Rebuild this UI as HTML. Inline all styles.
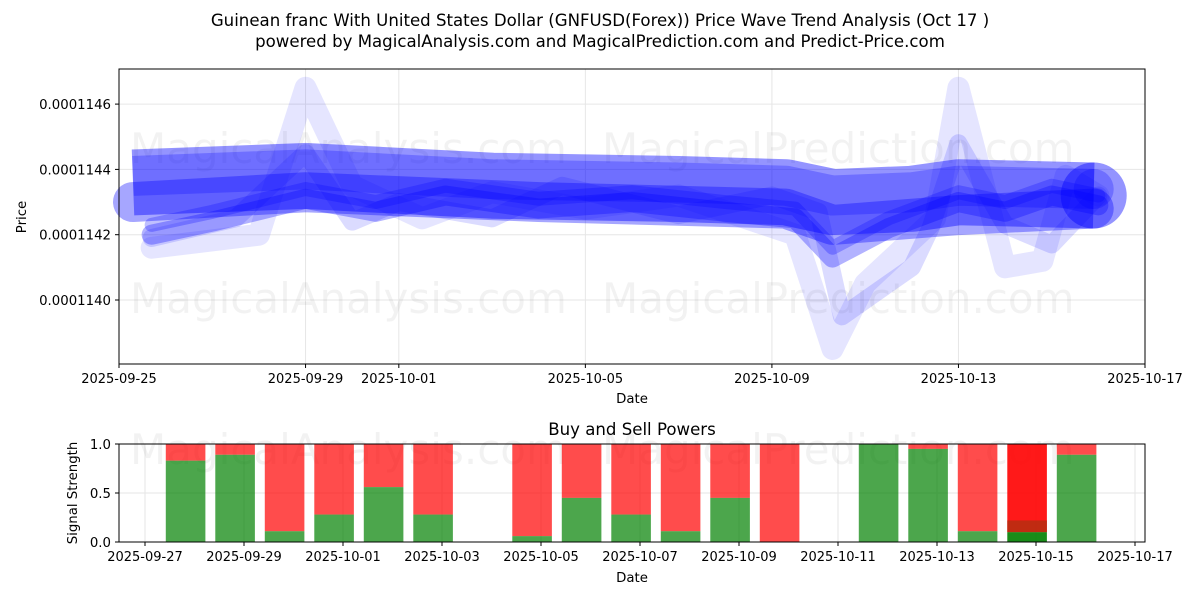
<!DOCTYPE html>
<html><head><meta charset="utf-8"><style>
body{margin:0;background:#fff;font-family:"Liberation Sans",sans-serif}
svg text{font-family:"DejaVu Sans","Liberation Sans",sans-serif;fill:#000}
</style></head><body>
<svg id="c" width="1200" height="600" viewBox="0 0 1200 600">
<text x="600" y="26" font-size="16.6" text-anchor="middle">Guinean franc With United States Dollar (GNFUSD(Forex)) Price Wave Trend Analysis (Oct 17 )</text>
<text x="600" y="47" font-size="16.6" text-anchor="middle">powered by MagicalAnalysis.com and MagicalPrediction.com and Predict-Price.com</text>
<g id="topg"></g>
<g id="botg"></g>
</svg>
<script>
// ---- top chart data (price x 1e7, days since 2025-09-25)
const topTicksX = ["2025-09-25","2025-09-29","2025-10-01","2025-10-05","2025-10-09","2025-10-13","2025-10-17"];
const topTickDays = [0,4,6,10,14,18,22];
const topTicksY = [1140,1142,1144,1146];
const s1Days = [0.3,4,8,12,14.3,15.3,17,18,20.9];
const s1Vals = [1143.6,1143.8,1143.5,1143.4,1143.3,1143.0,1143.1,1143.3,1143.2];
const s2Days = [0.3,4,9,14.3,15.3,18,20.9];
const s2Vals = [1143.0,1143.3,1143.0,1142.8,1142.3,1142.6,1142.8];
const s3Days = [0.7,2.5,4,5,6,8,9.5,12,14,15,15.5,17,17.4,18,19,20,21];
const s3Vals = [1141.9,1142.5,1144.5,1142.4,1143.0,1142.5,1143.5,1142.6,1143.2,1142.7,1139.5,1141,1142.2,1144.8,1142.3,1141.7,1143.2];
const s4Days = [0.7,3,4,5,6.5,8,10,12,14.5,15.3,16,17.5,18,19,19.8,20.3,21];
const s4Vals = [1141.6,1142,1146.5,1143.5,1142.5,1143.3,1142.8,1143.2,1142,1138.5,1140.5,1142.5,1146.5,1141.0,1141.2,1143.8,1143.2];
const s5Days = [0.7,2,4,5.5,7,9,11,13,14.5,15.3,16.5,18,19,20,21];
const s5Vals = [1142.0,1142.4,1143.1,1142.7,1143.2,1142.8,1143.0,1142.7,1142.5,1141.3,1142.2,1143.0,1142.7,1143.2,1142.9];
// ---- bottom chart data
const barDays = [0,1,2,3,4,5,7,8,9,10,11,12,14,15,16,17,18];
const buyVals = [0.83,0.89,0.11,0.28,0.56,0.28,0.06,0.45,0.28,0.11,0.45,0.0,1.0,0.95,0.11,0.1,0.89];
const botTicksX = ["2025-09-27","2025-09-29","2025-10-01","2025-10-03","2025-10-05","2025-10-07","2025-10-09","2025-10-11","2025-10-13","2025-10-15","2025-10-17"];
const botTicksY = [0.0,0.5,1.0];

const NS="http://www.w3.org/2000/svg";
function mk(p,t,a){const e=document.createElementNS(NS,t);for(const k in a)e.setAttribute(k,a[k]);p.appendChild(e);return e;}
const topG=document.getElementById('topg'),botG=document.getElementById('botg');
const L=119,R=1145,T=69,B=364;
const tx=d=>L+d*(R-L)/22, ty=v=>300-(v-1140)*65.3/2;
topTickDays.forEach(d=>{const g=mk(topG,'line',{x1:tx(d),x2:tx(d),y1:T,y2:B,stroke:'#e6e6e6'});

});
topTicksY.forEach(v=>{const g=mk(topG,'line',{x1:L,x2:R,y1:ty(v),y2:ty(v),stroke:'#e6e6e6'});

});
[[130,163],[602,163],[130,313],[602,313]].forEach((p,i)=>{const t=mk(topG,'text',{x:p[0],y:p[1],'font-size':42,fill:'#000','fill-opacity':0.05});t.textContent=i%2?'MagicalPrediction.com':'MagicalAnalysis.com';

});
function line(days,vals,w,op,name,cap){const pts=days.map((d,i)=>tx(d)+','+ty(vals[i])).join(' ');const p=mk(topG,'polyline',{points:pts,fill:'none',stroke:'#0000ff','stroke-opacity':op,'stroke-width':w,'stroke-linejoin':'round','stroke-linecap':cap||'round'});


if(cap==='butt'){const n=days.length-1;const c=mk(topG,'circle',{cx:tx(days[n]),cy:ty(vals[n]),r:w/2,fill:'#0000ff','fill-opacity':op});

}}
line(s4Days,s4Vals,22,0.1,'wave-4');
line(s3Days,s3Vals,18,0.14,'wave-3');
line(s1Days,s1Vals,66,0.42,'wave-1','butt');
line(s1Days,s1Vals.map(v=>v+0.2),40,0.25,'wave-1b','butt');
line(s2Days,s2Vals,40,0.35,'wave-2');
line(s5Days,s5Vals,20,0.3,'wave-5');
line(s5Days,s5Vals.map(v=>v+0.3),14,0.25,'wave-5b');
mk(topG,'rect',{x:L,y:T,width:R-L,height:B-T,fill:'none',stroke:'#000'});
topTickDays.forEach((d,i)=>{mk(topG,'line',{x1:tx(d),x2:tx(d),y1:B,y2:B+4,stroke:'#000'});const t=mk(topG,'text',{x:tx(d),y:B+19,'font-size':13,'text-anchor':'middle'});t.textContent=topTicksX[i];

});
topTicksY.forEach(v=>{mk(topG,'line',{x1:L-4,x2:L,y1:ty(v),y2:ty(v),stroke:'#000'});const t=mk(topG,'text',{x:L-8,y:ty(v)+5,'font-size':13.3,'text-anchor':'end'});t.textContent=(v*1e-7).toFixed(7);

});
let t=mk(topG,'text',{x:632,y:403,'font-size':13.3,'text-anchor':'middle'});t.textContent='Date';
t=mk(topG,'text',{x:26,y:217,'font-size':13.3,'text-anchor':'middle',transform:'rotate(-90 26 217)'});t.textContent='Price';
// bottom
const bT=444,bB=542;
const bx=d=>145+d*49.5, by=v=>bB-v*(bB-bT);
t=mk(botG,'text',{x:632,y:435,'font-size':16.6,'text-anchor':'middle'});t.textContent='Buy and Sell Powers';
botTicksX.forEach((s,i)=>{mk(botG,'line',{x1:bx(i*2),x2:bx(i*2),y1:bT,y2:bB,stroke:'#e6e6e6'});});
botTicksY.forEach(v=>mk(botG,'line',{x1:L,x2:R,y1:by(v),y2:by(v),stroke:'#e6e6e6'}));
[[130,464],[602,464]].forEach((p,i)=>{const w=mk(botG,'text',{x:p[0],y:p[1],'font-size':42,fill:'#000','fill-opacity':0.05});w.textContent=i?'MagicalPrediction.com':'MagicalAnalysis.com';});
barDays.forEach((d,i)=>{const cx=bx(d+0.82),w=39.6,g=buyVals[i];const strong=d===17;
const r=mk(botG,'rect',{x:cx-w/2,y:by(1),width:w,height:by(g)-by(1),fill:'#ff0000','fill-opacity':strong?0.9:0.7});


if(strong){mk(botG,'rect',{x:cx-w/2,y:by(g+0.12),width:w,height:by(g)-by(g+0.12),fill:'#b03010','fill-opacity':0.8});}
const b=mk(botG,'rect',{x:cx-w/2,y:by(g),width:w,height:bB-by(g),fill:'#008000','fill-opacity':strong?0.9:0.7});

});
mk(botG,'rect',{x:L,y:bT,width:R-L,height:bB-bT,fill:'none',stroke:'#000'});
botTicksX.forEach((s,i)=>{mk(botG,'line',{x1:bx(i*2),x2:bx(i*2),y1:bB,y2:bB+4,stroke:'#000'});const q=mk(botG,'text',{x:bx(i*2),y:bB+19,'font-size':13,'text-anchor':'middle'});q.textContent=s;

});
botTicksY.forEach(v=>{mk(botG,'line',{x1:L-4,x2:L,y1:by(v),y2:by(v),stroke:'#000'});const q=mk(botG,'text',{x:L-8,y:by(v)+5,'font-size':13.3,'text-anchor':'end'});q.textContent=v.toFixed(1);

});
t=mk(botG,'text',{x:632,y:582,'font-size':13.3,'text-anchor':'middle'});t.textContent='Date';
t=mk(botG,'text',{x:77,y:493,'font-size':13.3,'text-anchor':'middle',transform:'rotate(-90 77 493)'});t.textContent='Signal Strength';
</script>
</body></html>
